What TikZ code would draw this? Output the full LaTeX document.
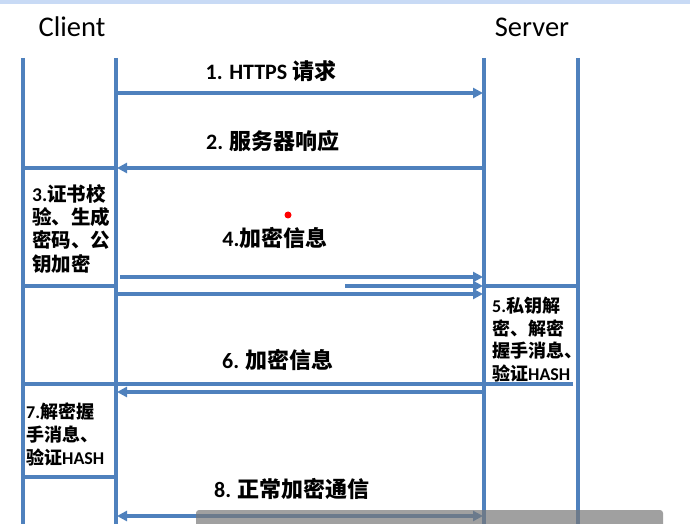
\documentclass[tikz,border=0pt]{standalone}
\usepackage{fontspec}
\setmainfont{Carlito}
\newfontfamily\cjk{Noto Sans CJK SC}
\usetikzlibrary{arrows.meta}
\definecolor{lineblue}{RGB}{79,129,189}
\definecolor{bandblue}{RGB}{200,218,245}
\definecolor{subgray}{RGB}{120,120,120}
\newcommand{\zh}[1]{{\cjk #1}}
\begin{document}
\begin{tikzpicture}[x=1pt,y=-1pt,
  life/.style={draw=lineblue,line width=3.3pt},
  msg/.style={life,-{Triangle[length=10pt,width=10pt]}},
  bmsg/.style={life,{Triangle[length=10pt,width=10pt]}-{Triangle[length=10pt,width=10pt]}},
  head/.style={font=\fontsize{28.5}{32}\selectfont,inner sep=0pt},
  lbl/.style={font=\fontsize{22}{25}\selectfont\bfseries,inner sep=0pt},
  notebig/.style={font=\fontsize{19.5}{23.3}\selectfont\bfseries,inner sep=0pt,align=left,anchor=north west},
  notesmall/.style={font=\fontsize{18}{22.6}\selectfont\bfseries,inner sep=0pt,align=left,anchor=north west}]
\useasboundingbox (0,0) rectangle (694,524);
\fill[bandblue] (0,0) rectangle (690,4);

% headers
\node[head] (client) at (72,27) {Client};
\node[head] (server) at (532,27) {Server};

% lifeline end points
\coordinate (A0) at (23,58);  \coordinate (A1) at (23,524);
\coordinate (B0) at (116,58); \coordinate (B1) at (116,524);
\coordinate (C0) at (484,58); \coordinate (C1) at (484,524);
\coordinate (D0) at (578,58); \coordinate (D1) at (578,524);
\draw[life] (A0) -- (A1);
\draw[life] (B0) -- (B1);
\draw[life] (C0) -- (C1);
\draw[life] (D0) -- (D1);

% message end points
\coordinate (m1s) at (116,93);  \coordinate (m1e) at (483,93);
\coordinate (m2s) at (484,168); \coordinate (m2e) at (117,168);
\coordinate (b3t) at (23,168);  \coordinate (b3r) at (116,168);
\coordinate (m4as) at (120,277); \coordinate (m4ae) at (483,277);
\coordinate (m4bs) at (345,286); \coordinate (m4be) at (483,286);
\coordinate (m4cs) at (116,294); \coordinate (m4ce) at (483,294);
\coordinate (b3bl) at (23,286);  \coordinate (b3br) at (116,286);
\coordinate (b5tl) at (484,286); \coordinate (b5tr) at (578,286);
\coordinate (l6l) at (23,384);   \coordinate (l6r) at (573,384);
\coordinate (m6s) at (484,392);  \coordinate (m6e) at (117,392);
\coordinate (b7bl) at (23,477);  \coordinate (b7br) at (116,477);
\coordinate (m8s) at (117,516);  \coordinate (m8e) at (483,516);

\draw[msg] (m1s) -- (m1e);
\draw[msg] (m2s) -- (m2e);
\draw[life] (b3r) -- (b3t);
\draw[msg] (m4as) -- (m4ae);
\draw[msg] (m4bs) -- (m4be);
\draw[msg] (m4cs) -- (m4ce);
\draw[life] (b3bl) -- (b3br);
\draw[life] (b5tl) -- (b5tr);
\draw[life] (l6r) -- (l6l);
\draw[msg] (m6s) -- (m6e);
\draw[life] (b7bl) -- (b7br);
\draw[bmsg] (m8s) -- (m8e);

% labels
\node[lbl] (t1) at (271,71) {1. HTTPS \zh{请求}};
\node[lbl] (t2) at (273,141) {2. \zh{服务器响应}};
\node[lbl] (t4) at (275,238) {4.\zh{加密信息}};
\node[lbl] (t6) at (278,360) {6. \zh{加密信息}};
\node[lbl] (t8) at (292,489) {8. \zh{正常加密通信}};

% step boxes text
\node[notebig] (n3) at (32,184) {3.\zh{证书校}\\\zh{验、生成}\\\zh{密码、公}\\\zh{钥加密}};
\node[notesmall] (n5) at (492,297) {5.\zh{私钥解}\\\zh{密、解密}\\\zh{握手消息、}\\\zh{验证}HASH};
\node[notesmall] (n7) at (26,403) {7.\zh{解密握}\\\zh{手消息、}\\\zh{验证}HASH};

% screen artefacts
\fill[red] (288,215) circle (3.5);
\fill[subgray,opacity=0.7,rounded corners=3pt] (196,510) rectangle (663,530);
\end{tikzpicture}
\end{document}
